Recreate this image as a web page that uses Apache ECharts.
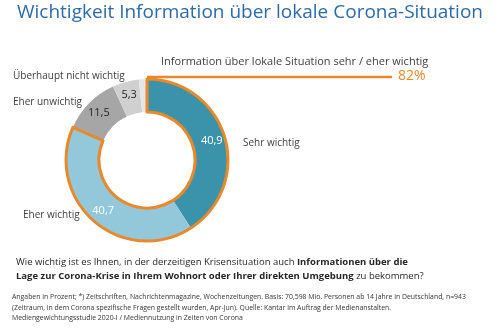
<!DOCTYPE html>
<html>
<head>
<meta charset="utf-8">
<script src="https://cdn.jsdelivr.net/npm/echarts@6/dist/echarts.min.js"></script>
<style>html,body{margin:0;padding:0;background:#fff}#c{width:500px;height:330px}</style>
</head>
<body>
<div id="c"></div>
<script>
var categories = ['Sehr wichtig', 'Eher wichtig', 'Eher unwichtig', 'Überhaupt nicht wichtig', ''];
var values = [40.9, 40.7, 11.5, 5.3, 1.6];
var valueLabels = ['40,9', '40,7', '11,5', '5,3', ''];
var highlightLabel = 'Information über lokale Situation sehr / eher wichtig';
var highlightValue = '82%';
var highlightCount = 2; // first two categories summed

var colors = ['#3a93ab', '#92c8da', '#a6a6a6', '#d0d0d0', '#e6e6e6'];
var labelColors = ['#ffffff', '#ffffff', '#262626', '#262626', '#262626'];
var orange = '#e8892b';
var FONT = 'Open Sans';
var center = [147, 160];
var rInner = 48, rOuter = 81;
var namePos = [[243, 143], [23, 215], [13, 102], [13, 76], [0, 0]];

var hiSum = 0, restSum = 0;
values.forEach(function (v, i) { if (i < highlightCount) hiSum += v; else restSum += v; });

var chart = echarts.init(document.getElementById('c'), null, {renderer: 'canvas'});
chart.setOption({
  animation: false,
  title: [
    {text: 'Wichtigkeit Information über lokale Corona-Situation', left: 17, top: 3, padding: 0,
     textStyle: {fontFamily: FONT, fontSize: 19, fontWeight: 'normal', color: '#2e6aa6'}},
    {text: highlightLabel, left: 161, top: 56, padding: 0,
     textStyle: {fontFamily: FONT, fontSize: 11, fontWeight: 'normal', color: '#404040'}},
    {text: highlightValue, left: 398, top: 69, padding: 0,
     textStyle: {fontFamily: FONT, fontSize: 14, fontWeight: 'normal', color: orange}},
    {text: '{n|Wie wichtig ist es Ihnen, in der derzeitigen Krisensituation auch }{b|Informationen über die}\n{b|Lage zur Corona-Krise in Ihrem Wohnort oder Ihrer direkten Umgebung}{n| zu bekommen?}',
     left: 16, top: 255, padding: 0,
     textStyle: {fontFamily: FONT, fontSize: 9.5, fontWeight: 'normal', color: '#262626', lineHeight: 14,
       rich: {n: {fontFamily: FONT, fontSize: 9.5, fontWeight: 'normal', color: '#262626', lineHeight: 14},
              b: {fontFamily: FONT, fontSize: 9.5, fontWeight: 'bold', color: '#262626', lineHeight: 14}}}},
    {text: 'Angaben in Prozent; *) Zeitschriften, Nachrichtenmagazine, Wochenzeitungen. Basis: 70,598 Mio. Personen ab 14 Jahre in Deutschland, n=943\n(Zeitraum, in dem Corona spezifische Fragen gestellt wurden, Apr-Jun). Quelle: Kantar im Auftrag der Medienanstalten.\nMediengewichtungsstudie 2020-I / Mediennutzung in Zeiten von Corona',
     left: 12, top: 292, padding: 0,
     textStyle: {fontFamily: FONT, fontSize: 6.9, fontWeight: 'normal', color: '#333333', lineHeight: 10.5}}
  ],
  graphic: [
    {type: 'line', silent: true, z: 10,
     shape: {x1: center[0], y1: center[1] - rOuter - 2, x2: 392, y2: center[1] - rOuter - 2},
     style: {stroke: orange, lineWidth: 2.5}}
  ],
  series: [
    {type: 'pie', center: center, radius: [rInner, rOuter], startAngle: 90, clockwise: true,
     silent: true, z: 2,
     data: values.map(function (v, i) {
       return {name: categories[i], value: v, itemStyle: {color: colors[i]},
         label: {color: labelColors[i]}};
     }),
     label: {show: true, position: 'inside', fontFamily: FONT, fontSize: 11,
       formatter: function (p) { return valueLabels[p.dataIndex]; }},
     labelLine: {show: false}},
    {type: 'pie', center: center, radius: [rInner, rOuter], startAngle: 90, clockwise: true,
     silent: true, z: 3,
     data: [
       {value: hiSum, itemStyle: {color: 'rgba(0,0,0,0)', borderColor: orange, borderWidth: 3}},
       {value: restSum, itemStyle: {color: 'rgba(0,0,0,0)', borderWidth: 0}}
     ],
     label: {show: false}, labelLine: {show: false}},
    {type: 'pie', center: center, radius: [rInner, rOuter], startAngle: 90, clockwise: true,
     silent: true, z: 1,
     data: values.map(function (v, i) {
       return {name: categories[i], value: v, itemStyle: {color: 'rgba(0,0,0,0)'}};
     }),
     label: {show: true, position: 'outside', fontFamily: FONT, fontSize: 10, color: '#404040',
       overflow: 'none', width: 200,
       formatter: function (p) { return categories[p.dataIndex]; }},
     labelLine: {show: false},
     labelLayout: function (p) {
       var pos = namePos[p.dataIndex];
       return {x: pos[0], y: pos[1], align: 'left', verticalAlign: 'middle', width: 200};
     }}
  ]
});
</script>
</body>
</html>
